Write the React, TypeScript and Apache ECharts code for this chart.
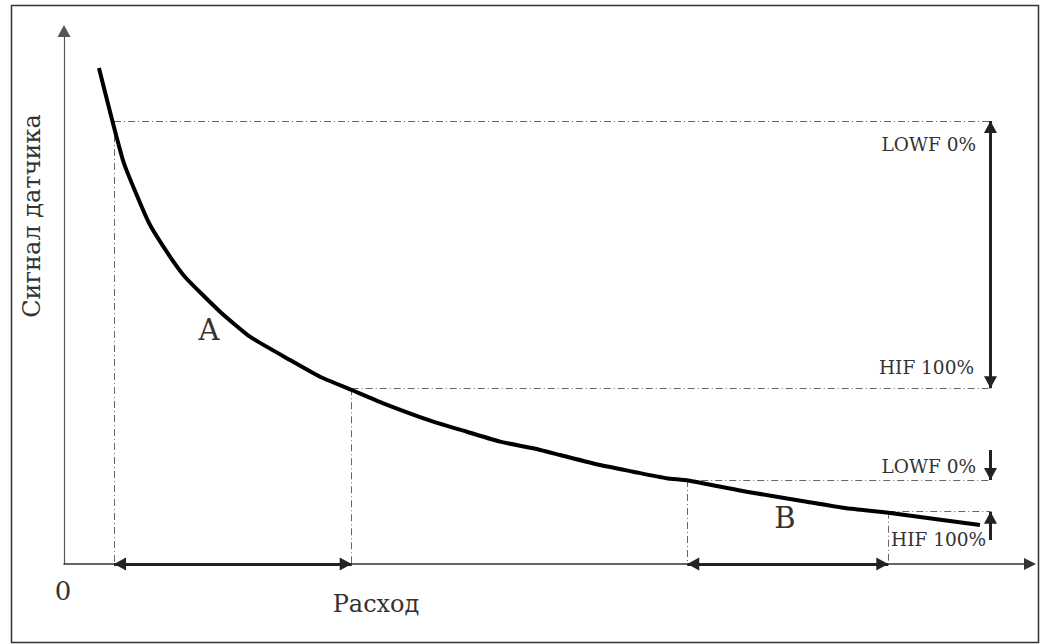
import React, { useEffect, useRef } from "react";
import * as echarts from "echarts";

// Curve: flow (x) vs sensor signal (y), in axis units 0..100
const flow = [3.62, 6.16, 8.73, 10.63, 12.53, 16.15, 19.25, 23.4, 26.5, 29.78, 33.05, 38.23, 41.69, 45.13, 48.58, 51.35, 55.49, 58.93, 62.39, 64.6, 70.67, 76.88, 81.02, 85.33, 94.82];
const signal = [93.06, 75.42, 64.22, 58.59, 53.85, 47.34, 42.64, 38.27, 35.14, 32.65, 30.15, 26.7, 24.82, 22.95, 21.71, 20.45, 18.57, 17.32, 16.08, 15.67, 13.56, 11.69, 10.45, 9.62, 7.32];

// Range A and range B set points [flow, signal]
const lowfA = [5.18, 83.11];
const hifA = [29.78, 32.96];
const lowfB = [64.52, 15.76];
const hifB = [85.33, 9.81];

// Reference vertical on the right, its span, and outer arrow starts
const refX = 95.91;
const refSpan = [88.61, -3.0];
const outerArrowStarts = [21.39, 4.5];

const labelsRight = ["LOWF 0%", "HIF 100%", "LOWF 0%", "HIF 100%"];
const xName = "Расход";
const yName = "Сигнал датчика";

const FONT = "DejaVu Serif";
const TXT = "#333";

export default function App() {
  const ref = useRef<HTMLDivElement>(null);
  useEffect(() => {
    if (!ref.current) return;
    const chart = echarts.init(ref.current, undefined, { renderer: "svg" });
    const dashDot = { color: "#666", width: 1, type: [7, 3, 1, 3] as any };
    const guide = (a: number[], b: number[]) => [
      { coord: a, lineStyle: dashDot },
      { coord: b },
    ];
    const arrowStyle = { color: "#222", width: 3, type: "solid" as any };
    const off = [[0, 6], [0, 6]];

    const text = (t: string, x: number, y: number, size: number, align: string, extra: any = {}) => ({
      type: "text",
      x,
      y,
      silent: true,
      ...extra,
      style: {
        text: t,
        fill: TXT,
        font: `${size}px "${FONT}"`,
        textAlign: align,
        textVerticalAlign: "middle",
      },
    });

    chart.setOption({
      animation: false,
      backgroundColor: "#fff",
      grid: { left: 64, right: 21, top: 31, bottom: 80 },
      xAxis: {
        type: "value",
        min: 0,
        max: 100,
        axisLine: {
          show: true,
          symbol: ["none", "triangle"],
          symbolSize: [12, 12],
          lineStyle: { color: "#333", width: 1.5 },
        },
        axisTick: { show: false },
        axisLabel: { show: false },
        splitLine: { show: false },
      },
      yAxis: {
        type: "value",
        min: 0,
        max: 100,
        axisLine: {
          show: true,
          symbol: ["none", "triangle"],
          symbolSize: [13, 12],
          lineStyle: { color: "#555", width: 1.2 },
        },
        axisTick: { show: false },
        axisLabel: { show: false },
        splitLine: { show: false },
      },
      graphic: [
        {
          type: "rect",
          shape: { x: 11.5, y: 5.5, width: 1027, height: 637 },
          style: { fill: "none", stroke: "#333", lineWidth: 1.5 },
          silent: true,
        },
        text(labelsRight[0], 976, 144, 18.5, "right"),
        text(labelsRight[1], 974, 367, 18.5, "right"),
        text(labelsRight[2], 976, 466, 18.5, "right"),
        text(labelsRight[3], 891, 539, 18.5, "left"),
        text("A", 209, 330, 29, "center"),
        text("B", 785, 518, 29, "center"),
        text("0", 63, 591, 26, "center"),
        text(xName, 376, 604, 24, "center"),
        text(yName, 32, 216, 24, "center", { rotation: Math.PI / 2 }),
      ],
      series: [
        {
          type: "line",
          data: [],
          clip: false,
          silent: true,
          markLine: {
            silent: true,
            symbol: ["none", "none"],
            label: { show: false },
            data: [
              guide(lowfA, [refX, lowfA[1]]),
              guide(lowfA, [lowfA[0], 0]),
              guide(hifA, [refX, hifA[1]]),
              guide(hifA, [hifA[0], 0]),
              guide(lowfB, [refX, lowfB[1]]),
              guide(lowfB, [lowfB[0], 0]),
              guide(hifB, [refX, hifB[1]]),
              guide(hifB, [hifB[0], 0]),
              [
                { coord: [refX, refSpan[0]], lineStyle: { color: "#333", width: 1, type: [5, 4] } },
                { coord: [refX, refSpan[1]] },
              ],
            ],
          },
        },
        {
          type: "line",
          data: flow.map((x, i) => [x, signal[i]]),
          showSymbol: false,
          smooth: 0.15,
          silent: true,
          lineStyle: { color: "#000", width: 4 },
          z: 5,
        },
        {
          type: "line",
          data: [],
          clip: false,
          silent: true,
          z: 6,
          markLine: {
            silent: true,
            symbol: ["triangle", "triangle"],
            symbolSize: [13, 12],
            symbolOffset: off,
            label: { show: false },
            lineStyle: arrowStyle,
            data: [
              [{ coord: [lowfA[0], 0] }, { coord: [hifA[0], 0] }],
              [{ coord: [lowfB[0], 0] }, { coord: [hifB[0], 0] }],
              [{ coord: [refX, lowfA[1]] }, { coord: [refX, hifA[1]] }],
              [{ coord: [refX, outerArrowStarts[0]], symbol: "none" }, { coord: [refX, lowfB[1]] }],
              [{ coord: [refX, outerArrowStarts[1]], symbol: "none" }, { coord: [refX, hifB[1]] }],
            ],
          },
        },
      ],
    });
    return () => chart.dispose();
  }, []);
  return (
    <div
      ref={ref}
      style={{ position: "absolute", left: 0, top: 0, width: 1051, height: 644 }}
    />
  );
}
